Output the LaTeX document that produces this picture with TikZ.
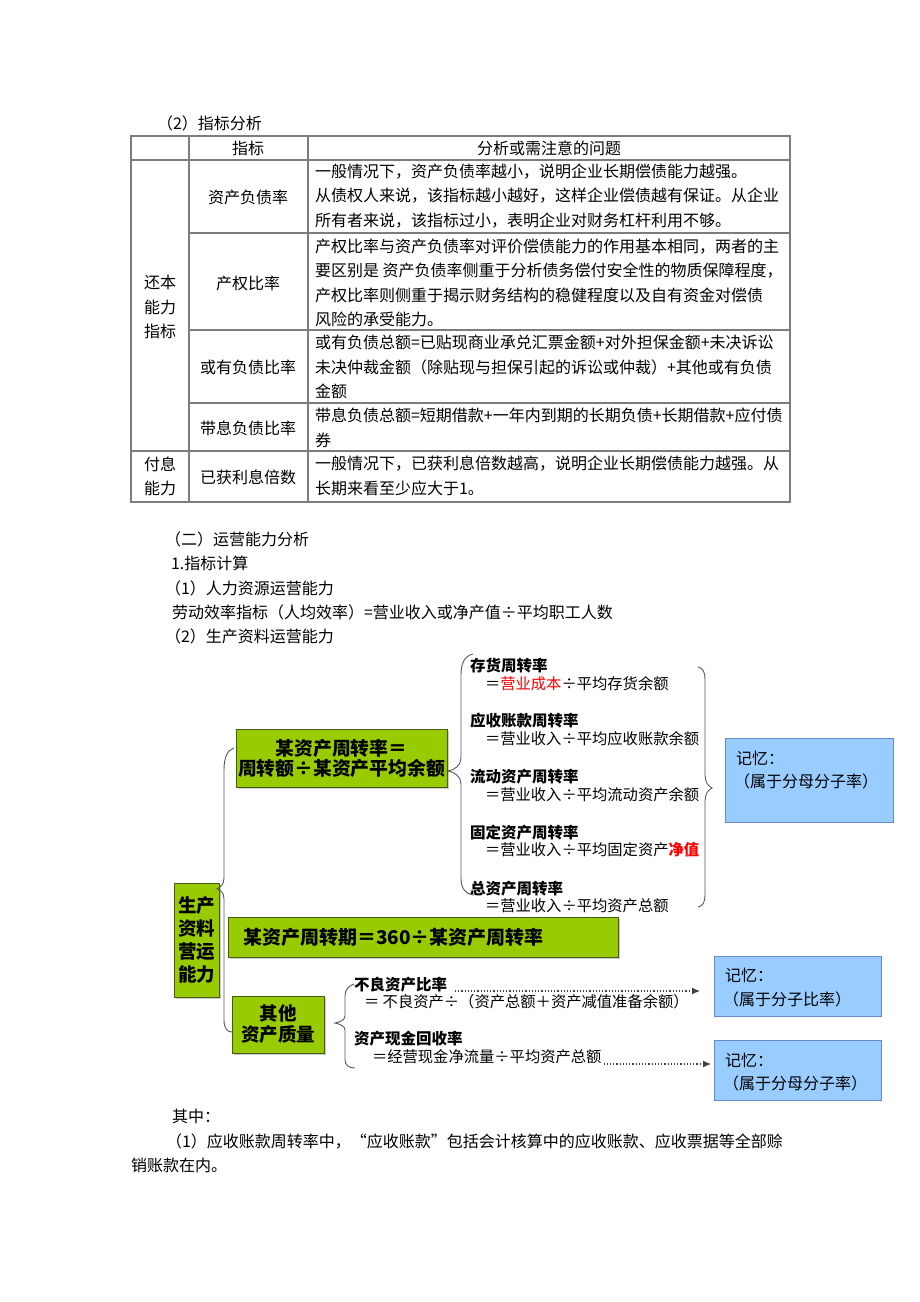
\documentclass[tikz,border=0pt]{standalone}
\usepackage{fontspec}
\setmainfont{Noto Sans CJK SC}
\usetikzlibrary{calc,shadows,arrows.meta}
\definecolor{gfill}{RGB}{153,204,0}
\definecolor{gdraw}{RGB}{70,90,20}
\definecolor{bfill}{RGB}{153,204,255}
\definecolor{bdraw}{RGB}{102,136,204}
\definecolor{tlc}{RGB}{125,125,125}
\begin{document}
\begin{tikzpicture}[x=1pt,y=-1pt,
  every node/.style={inner sep=0pt, outer sep=0pt},
  tx/.style={anchor=west, font=\fontsize{16}{24.4}\selectfont, align=left},
  cell/.style={font=\fontsize{16}{24.2}\selectfont, align=center},
  tl/.style={draw=tlc, line width=1.3pt},
  gbox/.style={draw=gdraw, line width=0.8pt, fill=gfill, align=center,
    drop shadow={shadow xshift=2pt,shadow yshift=-2pt,fill=black!40}},
  bbox/.style={draw=bdraw, line width=0.8pt, fill=bfill},
  btx/.style={anchor=west, font=\fontsize{16}{18}\selectfont},
  hd/.style={anchor=west, font=\bfseries\fontsize{15.5}{18}\selectfont},
  fm/.style={anchor=west, font=\fontsize{15.3}{18}\selectfont},
  brc/.style={draw=black!65, line width=0.9pt},
  darr/.style={dotted, line width=1.2pt, draw=black!75, -{Latex[length=8pt,width=7pt]}},
]
\useasboundingbox (0,0) rectangle (920,1302);
\fill[white] (0,0) rectangle (920,1302);

% ---------- title ----------
\node[tx] (t0) at (157,123) {（2）指标分析};

% ---------- table ----------
\draw[tl] (131,136) rectangle (790,502);
\draw[tl] (131,160) -- (790,160);
\draw[tl] (189,233) -- (790,233);
\draw[tl] (189,330) -- (790,330);
\draw[tl] (189,403) -- (790,403);
\draw[tl] (131,451) -- (790,451);
\draw[tl] (189,136) -- (189,502);
\draw[tl] (308,136) -- (308,502);

\node[cell] (hz) at (248,148) {指标};
\node[cell] (hf) at (549,148) {分析或需注意的问题};

\node[cell] (g1) at (160,307) {还本\\能力\\指标};
\node[cell] (g2) at (160,476) {付息\\能力};

\node[cell] (c1) at (248,197) {资产负债率};
\node[cell] (c2) at (248,283) {产权比率};
\node[cell] (c3) at (248,367) {或有负债比率};
\node[cell] (c4) at (248,428) {带息负债比率};
\node[cell] (c5) at (248,477) {已获利息倍数};

\node[tx] (d1) at (315,196) {一般情况下，资产负债率越小，说明企业长期偿债能力越强。\\从债权人来说，该指标越小越好，这样企业偿债越有保证。从企业\\所有者来说，该指标过小，表明企业对财务杠杆利用不够。};
\node[tx] (d2) at (315,283) {产权比率与资产负债率对评价偿债能力的作用基本相同，两者的主\\要区别是 资产负债率侧重于分析债务偿付安全性的物质保障程度，\\产权比率则侧重于揭示财务结构的稳健程度以及自有资金对偿债\\风险的承受能力。};
\node[tx] (d3) at (315,367) {或有负债总额=已贴现商业承兑汇票金额+对外担保金额+未决诉讼\\未决仲裁金额（除贴现与担保引起的诉讼或仲裁）+其他或有负债\\金额};
\node[tx] (d4) at (315,428) {带息负债总额=短期借款+一年内到期的长期负债+长期借款+应付债\\券};
\node[tx] (d5) at (315,476) {一般情况下，已获利息倍数越高，说明企业长期偿债能力越强。从\\长期来看至少应大于1。};

% ---------- text ----------
\node[tx] (p1) at (165,539) {（二）运营能力分析};
\node[tx] (p2) at (171,563) {1.指标计算};
\node[tx] (p3) at (165,588) {（1）人力资源运营能力};
\node[tx] (p4) at (172,612) {劳动效率指标（人均效率）=营业收入或净产值÷平均职工人数};
\node[tx] (p5) at (165,636) {（2）生产资料运营能力};

% ---------- diagram boxes ----------
\node[gbox, minimum width=45, minimum height=114, font=\bfseries\fontsize{18.5}{23}\selectfont] (sc) at (196.5,940) {生产\\资料\\营运\\能力};
\node[gbox, minimum width=211, minimum height=58, font=\bfseries\fontsize{18.8}{20}\selectfont] (zz) at (341.5,758) {某资产周转率＝\\周转额÷某资产平均余额};
\node[gbox, minimum height=40, inner xsep=15pt, text width=360, align=left, font=\bfseries\fontsize{19}{20}\selectfont] (zq) at (423,937) {某资产周转期＝360÷某资产周转率};
\node[gbox, minimum width=92, minimum height=57, font=\bfseries\fontsize{18.5}{21}\selectfont] (qt) at (278,1024.5) {其他\\资产质量};

% children of zz
\node[hd] (h1) at (470,666) {存货周转率};
\node[fm] (f1) at (485,684) {＝\textcolor{red}{营业成本}÷平均存货余额};
\node[hd] (h2) at (470,721) {应收账款周转率};
\node[fm] (f2) at (485,739) {＝营业收入÷平均应收账款余额};
\node[hd] (h3) at (470,777) {流动资产周转率};
\node[fm] (f3) at (485,795) {＝营业收入÷平均流动资产余额};
\node[hd] (h4) at (470,833) {固定资产周转率};
\node[fm] (f4) at (485,850) {＝营业收入÷平均固定资产\textcolor{red}{\bfseries 净值}};
\node[hd] (h5) at (470,889) {总资产周转率};
\node[fm] (f5) at (485,906) {＝营业收入÷平均资产总额};

% children of qt
\node[hd] (bl) at (354,985) {不良资产比率};
\node[fm] (fb) at (364,1002) {＝ 不良资产÷（资产总额＋资产减值准备余额）};
\node[hd] (xj) at (354,1039) {资产现金回收率};
\node[fm] (fx) at (372,1057) {＝经营现金净流量÷平均资产总额};

% memo boxes
\node[bbox, minimum width=168, minimum height=84] (m1) at (809,780) {};
\node[btx] (m1a) at (736,758) {记忆：};
\node[btx] (m1b) at (734,781) {（属于分母分子率）};
\node[bbox, minimum width=167, minimum height=60] (m2) at (797.5,986) {};
\node[btx] (m2a) at (725,975) {记忆：};
\node[btx] (m2b) at (723,999) {（属于分子比率）};
\node[bbox, minimum width=167, minimum height=60] (m3) at (797.5,1070) {};
\node[btx] (m3a) at (725,1060) {记忆：};
\node[btx] (m3b) at (723,1083) {（属于分母分子率）};

% ---------- braces ----------
\coordinate (A1) at ($(zz.west)+(-2,-10)$);
\coordinate (A2) at ($(sc.north east)+(-2,6)$);
\coordinate (A3) at ($(qt.west)+(0,7.5)$);
\draw[brc] (A1) .. controls (227,750) and (224,758) .. (224,770) -- (224,878)
  .. controls (224,884) and (221,887) .. (A2)
  .. controls (221,890) and (224,893) .. (224,899) -- (224,1020)
  .. controls (224,1028) and (227,1032) .. (A3);

\coordinate (B1) at ($(h1.west)+(3,-12)$);
\coordinate (B2) at ($(zz.east)+(1,13)$);
\coordinate (B3) at ($(h5.west)+(4,6)$);
\draw[brc] (B1) .. controls (464,656) and (461,664) .. (461,675) -- (461,758)
  .. controls (461,765) and (455,770) .. (B2)
  .. controls (455,772) and (461,777) .. (461,784) -- (461,878)
  .. controls (461,888) and (465,894) .. (B3);

\coordinate (C1) at (698,667);
\coordinate (C2) at ($(m1.west)+(-13,8)$);
\coordinate (C3) at (698,907);
\draw[brc] (C1) .. controls (703,668) and (705,672) .. (705,680) -- (705,775)
  .. controls (705,782) and (708,786) .. (C2)
  .. controls (708,790) and (705,794) .. (705,801) -- (705,895)
  .. controls (705,902) and (703,906) .. (C3);

\coordinate (D1) at ($(bl.west)+(0,-1)$);
\coordinate (D2) at ($(qt.east)+(11,-1.5)$);
\coordinate (D3) at ($(xj.west)+(1,29)$);
\draw[brc] (D1) .. controls (349,986) and (345,989) .. (345,996) -- (345,1016)
  .. controls (345,1020) and (340,1022) .. (D2)
  .. controls (340,1024) and (345,1026) .. (345,1030) -- (345,1060)
  .. controls (345,1065) and (349,1068) .. (D3);

% ---------- dotted arrows ----------
\draw[darr] ($(bl.east)+(8,6)$) -- ($(m2.west)+(-14,5)$);
\draw[darr] ($(fx.east)+(2,7)$) -- ($(m3.west)+(-3,-6)$);

% ---------- bottom text ----------
\node[tx] (q1) at (172,1116) {其中：};
\node[tx] (q2) at (166,1141) {（1）应收账款周转率中，“应收账款”包括会计核算中的应收账款、应收票据等全部赊};
\node[tx] (q3) at (131,1165) {销账款在内。};
\end{tikzpicture}
\end{document}
